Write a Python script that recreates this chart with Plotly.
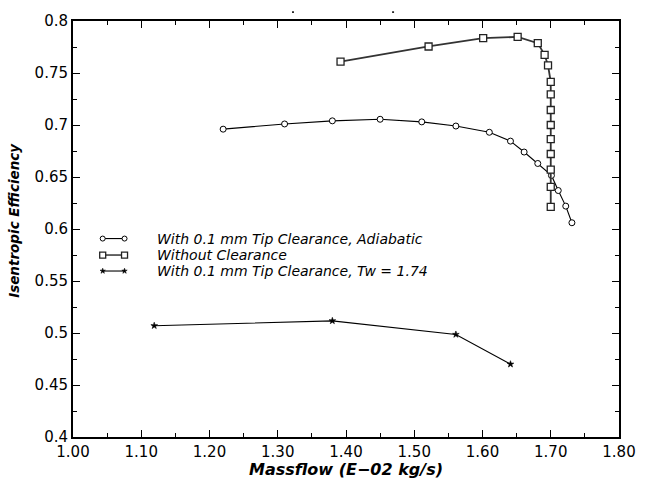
import plotly.graph_objects as go

# ---- data ----
circ_x = [1.220, 1.310, 1.380, 1.450, 1.511, 1.561, 1.610, 1.641, 1.661, 1.681, 1.701, 1.711, 1.722, 1.731]
circ_y = [0.696, 0.701, 0.704, 0.7055, 0.703, 0.699, 0.693, 0.6845, 0.674, 0.663, 0.6515, 0.637, 0.622, 0.606]

sq_x = [1.392, 1.521, 1.601, 1.6515, 1.681, 1.691, 1.696, 1.700, 1.700, 1.700, 1.700, 1.700, 1.700, 1.700, 1.700, 1.700]
sq_y = [0.761, 0.7755, 0.7835, 0.7847, 0.7787, 0.7675, 0.7573, 0.7415, 0.7294, 0.7144, 0.700, 0.6864, 0.6721, 0.6571, 0.6406, 0.6212]

star_x = [1.119, 1.380, 1.561, 1.641]
star_y = [0.507, 0.5117, 0.4986, 0.470]

x_ticks = [1.0, 1.1, 1.2, 1.3, 1.4, 1.5, 1.6, 1.7, 1.8]
x_labels = ["1.00", "1.10", "1.20", "1.30", "1.40", "1.50", "1.60", "1.70", "1.80"]
y_ticks = [0.4, 0.45, 0.5, 0.55, 0.6, 0.65, 0.7, 0.75, 0.8]
y_labels = ["0.4", "0.45", "0.5", "0.55", "0.6", "0.65", "0.7", "0.75", "0.8"]

series_names = [
    "With 0.1 mm Tip Clearance, Adiabatic",
    "Without Clearance",
    "With 0.1 mm Tip Clearance, Tw = 1.74",
]

FONT = "DejaVu Sans"

fig = go.Figure()

circ_marker = dict(symbol="circle", size=6, color="white", line=dict(color="black", width=1))
sq_marker = dict(symbol="square", size=7, color="white", line=dict(color="#222", width=1.3))
star_marker = dict(symbol="star", size=5, color="black", line=dict(color="black", width=0.6))

fig.add_trace(go.Scatter(x=circ_x, y=circ_y, mode="lines+markers",
                         line=dict(color="black", width=1.1), marker=circ_marker,
                         showlegend=False))
fig.add_trace(go.Scatter(x=sq_x, y=sq_y, mode="lines+markers",
                         line=dict(color="#333", width=1.8), marker=sq_marker,
                         showlegend=False))
fig.add_trace(go.Scatter(x=star_x, y=star_y, mode="lines+markers",
                         line=dict(color="black", width=1.1), marker=star_marker,
                         showlegend=False))

# ---- custom legend (paper-like overlay axes) ----
leg_rows = [0.477, 0.4374, 0.399]
leg_x0, leg_x1, leg_tx = 0.0544, 0.0944, 0.150
leg_styles = [
    (dict(color="black", width=1.1), circ_marker),
    (dict(color="#333", width=1.5), sq_marker),
    (dict(color="black", width=1.1), star_marker),
]
for (ln, mk), ry, name in zip(leg_styles, leg_rows, series_names):
    m = dict(mk)
    m["size"] = max(mk["size"] - 1, 4)
    fig.add_trace(go.Scatter(x=[leg_x0, leg_x1], y=[ry, ry], mode="lines+markers",
                             line=ln, marker=m, xaxis="x2", yaxis="y2",
                             showlegend=False, hoverinfo="skip"))
    fig.add_annotation(x=leg_tx, y=ry, xref="paper", yref="paper", text=f"<i>{name}</i>",
                       showarrow=False, xanchor="left", yanchor="middle",
                       font=dict(family=FONT, size=14, color="black"))

axis_common = dict(showline=True, linewidth=2, linecolor="black", mirror="allticks",
                   ticks="inside", ticklen=7, tickwidth=1, tickcolor="black",
                   showgrid=False, zeroline=False,
                   tickfont=dict(family=FONT, size=15, color="black"))

fig.update_layout(
    width=648, height=479,
    margin=dict(l=73, r=24, t=17, b=42),
    paper_bgcolor="white", plot_bgcolor="white",
    showlegend=False,
    xaxis=dict(range=[1.0, 1.8], tickvals=x_ticks, ticktext=x_labels,
               minor=dict(dtick=0.05, tick0=1.0, ticks="inside", ticklen=4, tickcolor="black", showgrid=False),
               **axis_common),
    yaxis=dict(range=[0.4, 0.8], tickvals=y_ticks, ticktext=y_labels,
               minor=dict(dtick=0.025, tick0=0.4, ticks="inside", ticklen=4, tickcolor="black", showgrid=False),
               **axis_common),
    xaxis2=dict(range=[0, 1], overlaying="x", visible=False, fixedrange=True),
    yaxis2=dict(range=[0, 1], overlaying="y", visible=False, fixedrange=True),
)

# axis titles
fig.add_annotation(x=0.5, y=-0.0785, xref="paper", yref="paper",
                   text="<b><i>Massflow (E\u221202 kg/s)</i></b>", showarrow=False,
                   xanchor="center", yanchor="middle",
                   font=dict(family=FONT, size=16, color="black"))
fig.add_annotation(x=-0.107, y=0.521, xref="paper", yref="paper",
                   text="<b><i>Isentropic Efficiency</i></b>", showarrow=False, textangle=-90,
                   xanchor="center", yanchor="middle",
                   font=dict(family=FONT, size=13.5, color="black"))

# small stray marks at top of the original
for px in (295, 396):
    fig.add_shape(type="line", xref="paper", yref="paper",
                  x0=(px - 74) / 551, x1=(px - 72) / 551, y0=1.0214, y1=1.0214,
                  line=dict(color="black", width=1.5))

fig.write_html("out.html")
